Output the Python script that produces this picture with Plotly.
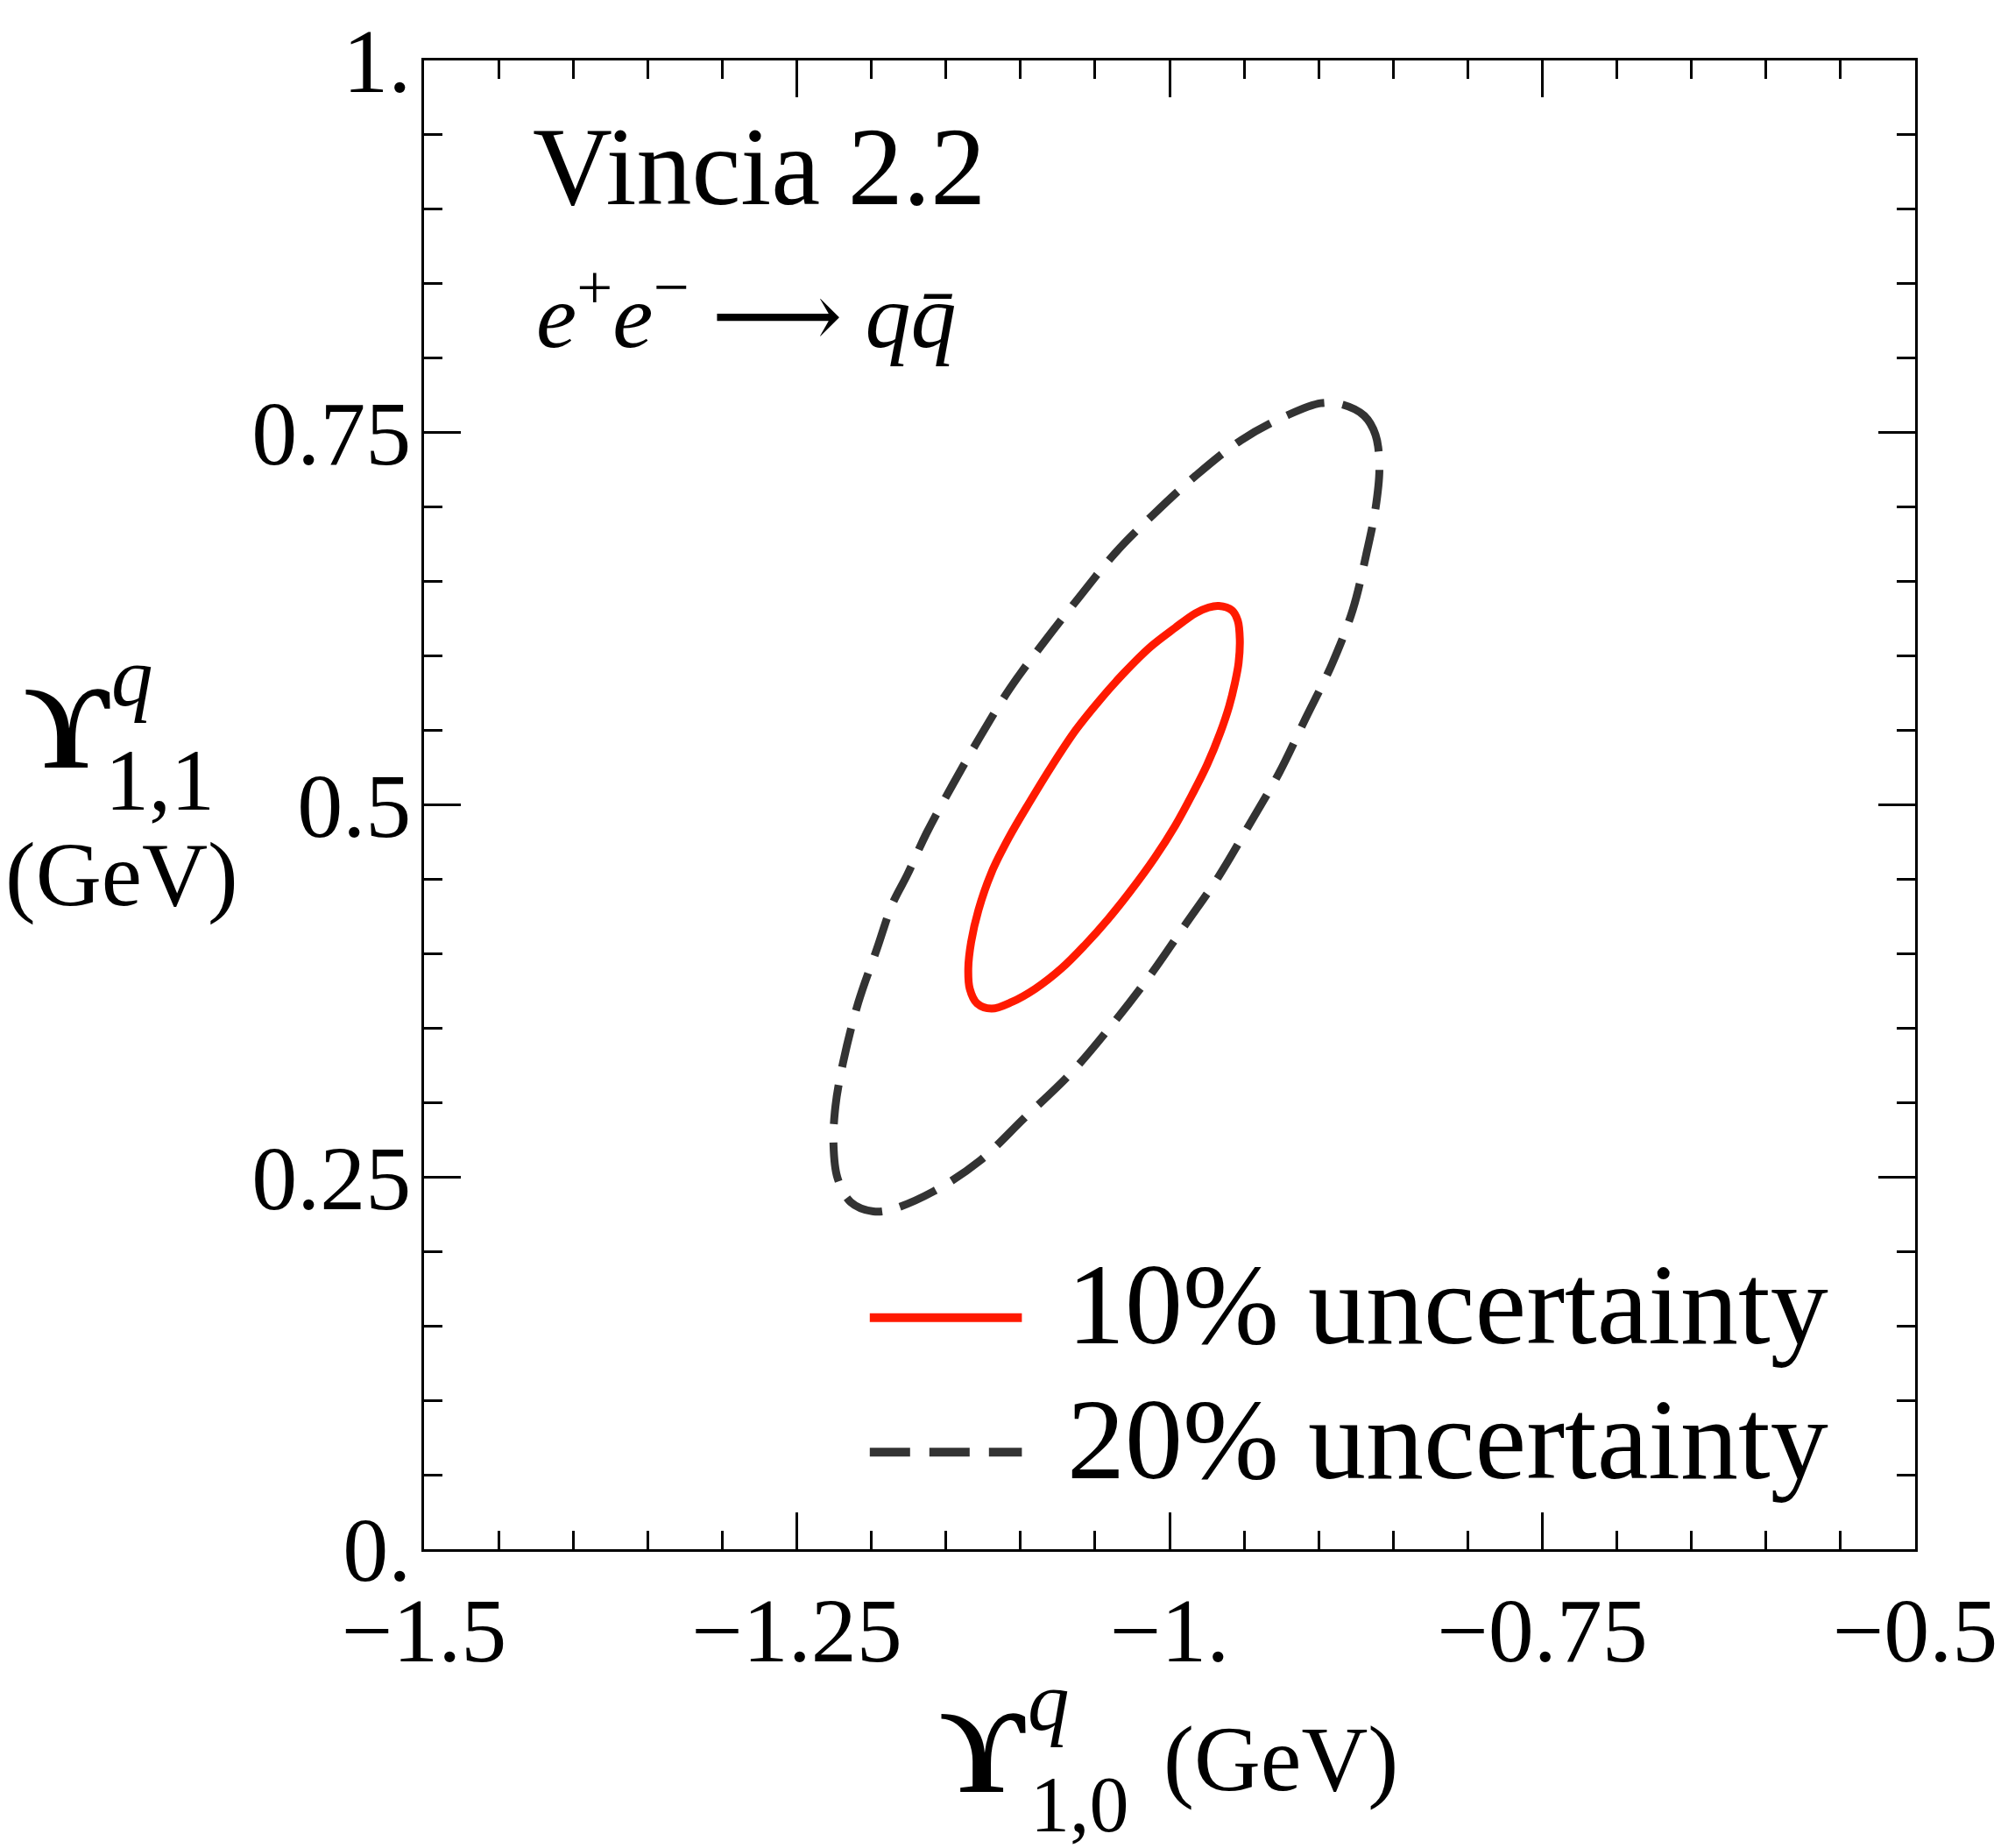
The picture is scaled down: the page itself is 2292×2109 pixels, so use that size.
import plotly.graph_objects as go

# ---- data ----
x_10 = [-0.9670, -0.9582, -0.9543, -0.9529, -0.9537, -0.9562, -0.9601, -0.9660, -0.9748, -0.9846,
        -0.9963, -1.0100, -1.0256, -1.0412, -1.0569, -1.0725, -1.0901, -1.1057, -1.1194, -1.1291,
        -1.1340, -1.1350, -1.1331, -1.1282, -1.1194, -1.1077, -1.0940, -1.0784, -1.0627, -1.0471,
        -1.0315, -1.0139, -0.9963, -0.9826, -0.9738, -0.9670]
y_10 = [0.6336, 0.6307, 0.6238, 0.6111, 0.5955, 0.5818, 0.5661, 0.5485, 0.5270, 0.5074,
        0.4859, 0.4644, 0.4429, 0.4233, 0.4057, 0.3901, 0.3764, 0.3676, 0.3631, 0.3666,
        0.3764, 0.3901, 0.4077, 0.4292, 0.4546, 0.4781, 0.5016, 0.5270, 0.5505, 0.5700,
        0.5876, 0.6052, 0.6189, 0.6287, 0.6326, 0.6336]

x_20 = [-0.8835, -0.8695, -0.8619, -0.8593, -0.8619, -0.8682, -0.8771, -0.8911, -0.9089, -0.9267,
        -0.9457, -0.9674, -0.9902, -1.0131, -1.0385, -1.0665, -1.0970, -1.1275, -1.1580, -1.1860,
        -1.1987, -1.2139, -1.2228, -1.2254, -1.2241, -1.2190, -1.2088, -1.1961, -1.1860, -1.1758,
        -1.1631, -1.1453, -1.1275, -1.1072, -1.0843, -1.0614, -1.0360, -1.0106, -0.9826, -0.9521,
        -0.9216, -0.8987, -0.8835]
y_20 = [0.7687, 0.7614, 0.7485, 0.7265, 0.6990, 0.6678, 0.6312, 0.5945, 0.5578, 0.5211,
        0.4881, 0.4514, 0.4184, 0.3854, 0.3524, 0.3194, 0.2900, 0.2607, 0.2405, 0.2284,
        0.2269, 0.2332, 0.2497, 0.2717, 0.2974, 0.3267, 0.3671, 0.4037, 0.4331, 0.4533,
        0.4808, 0.5138, 0.5450, 0.5780, 0.6092, 0.6385, 0.6697, 0.6953, 0.7210, 0.7449,
        0.7614, 0.7698, 0.7687]

series_names = ["10% uncertainty", "20% uncertainty"]
x_tickvals = [-1.5, -1.25, -1.0, -0.75, -0.5]
x_ticktext = ["\u22121.5", "\u22121.25", "\u22121.", "\u22120.75", "\u22120.5"]
y_tickvals = [0, 0.25, 0.5, 0.75, 1.0]
y_ticktext = ["0.", "0.25", "0.5", "0.75", "1."]

# ---- style ----
W, H = 2292, 2109
L, R, T, B = 484, 2190, 64, 1768
PW, PH = R - L, B - T
SERIF = "Liberation Serif, Times New Roman, DejaVu Serif, serif"
RED = "#FF1A00"
DARK = "#333333"


def px(xp):
    return (xp - L) / PW


def py(yp):
    return (B - yp) / PH


fig = go.Figure()
fig.add_trace(go.Scatter(x=x_10, y=y_10, mode="lines", name=series_names[0],
                         line=dict(color=RED, width=9, shape="spline", smoothing=1.0),
                         showlegend=False, hoverinfo="skip"))
fig.add_trace(go.Scatter(x=x_20, y=y_20, mode="lines", name=series_names[1],
                         line=dict(color=DARK, width=9, dash="45px,21px", shape="spline", smoothing=1.0),
                         showlegend=False, hoverinfo="skip"))

axis_common = dict(
    showgrid=False, zeroline=False, showline=True, linecolor="black", linewidth=3,
    mirror="ticks", ticks="inside", ticklen=42, tickwidth=2.5, tickcolor="black",
    tickfont=dict(family=SERIF, size=104, color="black"),
    tickmode="array",
)
fig.update_xaxes(range=[-1.5, -0.5], tickvals=x_tickvals, ticktext=x_ticktext,
                 minor=dict(tick0=-1.5, dtick=0.05, ticks="inside", ticklen=21, tickwidth=2.5,
                            tickcolor="black", showgrid=False),
                 **axis_common)
fig.update_yaxes(range=[0, 1], tickvals=y_tickvals, ticktext=y_ticktext,
                 ticklabelstandoff=-9,
                 minor=dict(tick0=0, dtick=0.05, ticks="inside", ticklen=21, tickwidth=2.5,
                            tickcolor="black", showgrid=False),
                 **axis_common)

ann = []


def add_text(text, xp, yp, size, xanchor="center", family=SERIF):
    ann.append(dict(text=text, x=px(xp), y=py(yp), xref="paper", yref="paper",
                    xanchor=xanchor, yanchor="middle", showarrow=False,
                    font=dict(family=family, size=size, color="black")))


# in-plot labels
add_text("Vincia 2.2", 606, 186, 126, xanchor="left")
add_text("<i>e</i><sup>+</sup><i>e</i><sup>\u2212</sup> "
         "<span style=\"font-family:DejaVu Serif\">\u27f6</span> <i>q</i><i>q\u0304</i>",
         610, 350, 104, xanchor="left")

# legend (manual)
fig.add_shape(type="line", xref="paper", yref="paper", x0=px(994), x1=px(1168), y0=py(1503), y1=py(1503),
              line=dict(color=RED, width=10))
fig.add_shape(type="line", xref="paper", yref="paper", x0=px(994), x1=px(1168), y0=py(1657), y1=py(1657),
              line=dict(color=DARK, width=10, dash="46px,22px"))
add_text(series_names[0], 1218, 1488, 132, xanchor="left")
add_text(series_names[1], 1218, 1642, 132, xanchor="left")

# y axis title
add_text("<b>\u03d2</b>", 76, 828, 135)
add_text("<i>q</i>", 150, 770, 95)
add_text("1,1", 182, 888, 100)
add_text("(GeV)", 138, 996, 104)

# x axis title
add_text("<b>\u03d2</b>", 1123, 2000, 135)
add_text("<i>q</i>", 1199, 1943, 95)
add_text("1,0", 1234, 2060, 90)
add_text("(GeV)", 1464, 2008, 105)

fig.update_layout(
    width=W, height=H,
    margin=dict(l=L, r=W - R, t=T, b=H - B),
    paper_bgcolor="white", plot_bgcolor="white",
    showlegend=False,
    annotations=ann,
)

fig.write_html("out.html")
